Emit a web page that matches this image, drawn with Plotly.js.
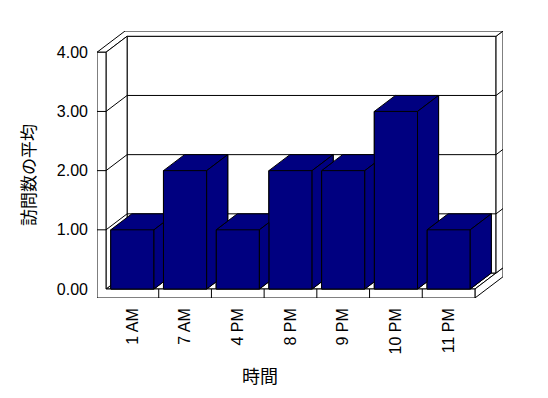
<!DOCTYPE html>
<html>
<head>
<meta charset="utf-8">
<script src="https://cdn.plot.ly/plotly-3.0.1.min.js"></script>
<style>html,body{margin:0;padding:0;background:#fff;}#chart{width:548px;height:398px;}</style>
</head>
<body>
<div id="chart"></div>
<script>
// ---- data ----
const categories = ['1 AM', '7 AM', '4 PM', '8 PM', '9 PM', '10 PM', '11 PM'];
const visits = [1, 2, 1, 2, 2, 3, 1];
const yTickVals = [0, 1, 2, 3, 4];
const xTitle = '時間';
const yTitle = '訪問数の平均';

// ---- 3D look geometry (data units) ----
const DX = 0.40, DY = 0.27;   // depth vector
const EXT = 1.33;             // depth incl. back-wall thickness
const WT = 0.171;             // left wall thickness
const FT = 0.152;             // floor thickness
const BW = 0.82;              // bar width
const n = categories.length;
const x0 = -0.5, x1 = n - 0.5;
const yMax = yTickVals[yTickVals.length - 1];
const idx = categories.map((_, i) => i);
const navy = '#000080';

const path = (pts, close = true) =>
  'M' + pts.map(p => p[0] + ',' + p[1]).join('L') + (close ? 'Z' : '');
const shapes = [];
function poly(pts, close = true, fill = '#ffffff', layer = 'below') {
  const s = {type: 'path', xref: 'x', yref: 'y', layer: layer, path: path(pts, close),
             line: {color: '#000', width: 1}};
  s.fillcolor = close ? fill : 'rgba(0,0,0,0)';
  shapes.push(s);
}
// floor top + right face
poly([[x0, 0], [x0 + DX, DY], [x1 + DX, DY], [x1 + EXT * DX, EXT * DY], [x1, 0]]);
poly([[x1, 0], [x1 + EXT * DX, EXT * DY], [x1 + EXT * DX, EXT * DY - FT], [x1, -FT]]);
// back wall front face and right face
poly([[x0 + DX, DY], [x1 + DX, DY], [x1 + DX, yMax + DY], [x0 + DX, yMax + DY]]);
poly([[x1 + DX, DY], [x1 + EXT * DX, EXT * DY], [x1 + EXT * DX, yMax + EXT * DY], [x1 + DX, yMax + DY]]);
// top strip
poly([[x0 - WT, yMax], [x0 - WT + EXT * DX, yMax + EXT * DY], [x1 + EXT * DX, yMax + EXT * DY],
      [x1 + DX, yMax + DY], [x0 + DX, yMax + DY], [x0, yMax]]);
// left wall inner face
poly([[x0, 0], [x0, yMax], [x0 + DX, yMax + DY], [x0 + DX, DY]]);
// front L (left wall front + floor front)
poly([[x0 - WT, -FT], [x0 - WT, yMax], [x0, yMax], [x0, 0], [x1, 0], [x1, -FT]]);
// gridlines
yTickVals.filter(v => v > 0 && v < yMax).forEach(v => {
  poly([[x0 - WT, v], [x0, v], [x0 + DX, v + DY], [x1 + DX, v + DY], [x1 + EXT * DX, v + EXT * DY]], false);
});
// category dividers on floor front
for (let k = 1; k < n; k++) poly([[x0 + k, -FT], [x0 + k, 0]], false);

// 3D columns drawn from the data, left to right
idx.forEach(i => {
  const v = visits[i], l = i - BW / 2, r = i + BW / 2;
  poly([[l, 0], [l, v], [l + DX, v + DY], [r + DX, v + DY], [r + DX, DY], [r, 0]], true, navy, 'above');
  poly([[l, v], [r, v], [r, 0]], false, null, 'above');
  poly([[r, v], [r + DX, v + DY]], false, null, 'above');
});
// visible part of each side face, painted last
const K = DY / DX;
idx.forEach(i => {
  const v = visits[i], r = i + BW / 2;
  let pts;
  if (i === n - 1) {
    pts = [[r, 0], [r, v], [r + DX, v + DY], [r + DX, DY]];
  } else {
    const ln = i + 1 - BW / 2, vn = visits[i + 1], g = ln - r;
    if (vn >= v + g * K) pts = [[r, 0], [r, v], [ln, v + g * K], [ln, g * K]];
    else pts = [[r, 0], [r, v], [r + DX, v + DY], [r + DX, vn + (r + DX - ln) * K], [ln, vn], [ln, g * K]];
  }
  poly(pts, true, navy, 'above');
});

// ---- trace: front faces of the columns ----
const traces = [{
  type: 'bar', x: idx, y: visits, width: BW,
  marker: {color: navy, line: {color: '#000', width: 1}},
  hoverinfo: 'skip', showlegend: false
}];

const tickFont = {family: 'Liberation Sans, Arial, sans-serif', size: 16, color: '#000'};
const layout = {
  width: 548, height: 398,
  margin: {l: 97, r: 45, t: 31, b: 100},
  paper_bgcolor: '#fff', plot_bgcolor: '#fff',
  showlegend: false,
  xaxis: {
    range: [x0 - WT, x1 + EXT * DX], tickvals: idx, ticktext: categories,
    tickangle: -90, tickfont: tickFont, showgrid: false, zeroline: false, showline: false,
    ticks: '', ticklabelstandoff: 6
  },
  yaxis: {
    range: [-FT, yMax + EXT * DY], tickvals: yTickVals, tickformat: '.2f',
    tickfont: tickFont, showgrid: false, zeroline: false, showline: false,
    ticks: '', ticklabelstandoff: 8
  },
  shapes: shapes,
  annotations: [
    {text: yTitle, xref: 'paper', yref: 'paper', x: (27 - 97) / 406, y: (298 - 175) / 267,
     xanchor: 'center', yanchor: 'middle', textangle: -90, showarrow: false,
     font: {family: 'Noto Sans CJK JP, sans-serif', size: 17, color: '#000'}},
    {text: xTitle, xref: 'paper', yref: 'paper', x: (260 - 97) / 406, y: (298 - 375) / 267,
     xanchor: 'center', yanchor: 'middle', showarrow: false,
     font: {family: 'Noto Sans CJK JP, sans-serif', size: 18, color: '#000'}}
  ]
};
Plotly.newPlot('chart', traces, layout, {staticPlot: true, displayModeBar: false});
</script>
</body>
</html>
